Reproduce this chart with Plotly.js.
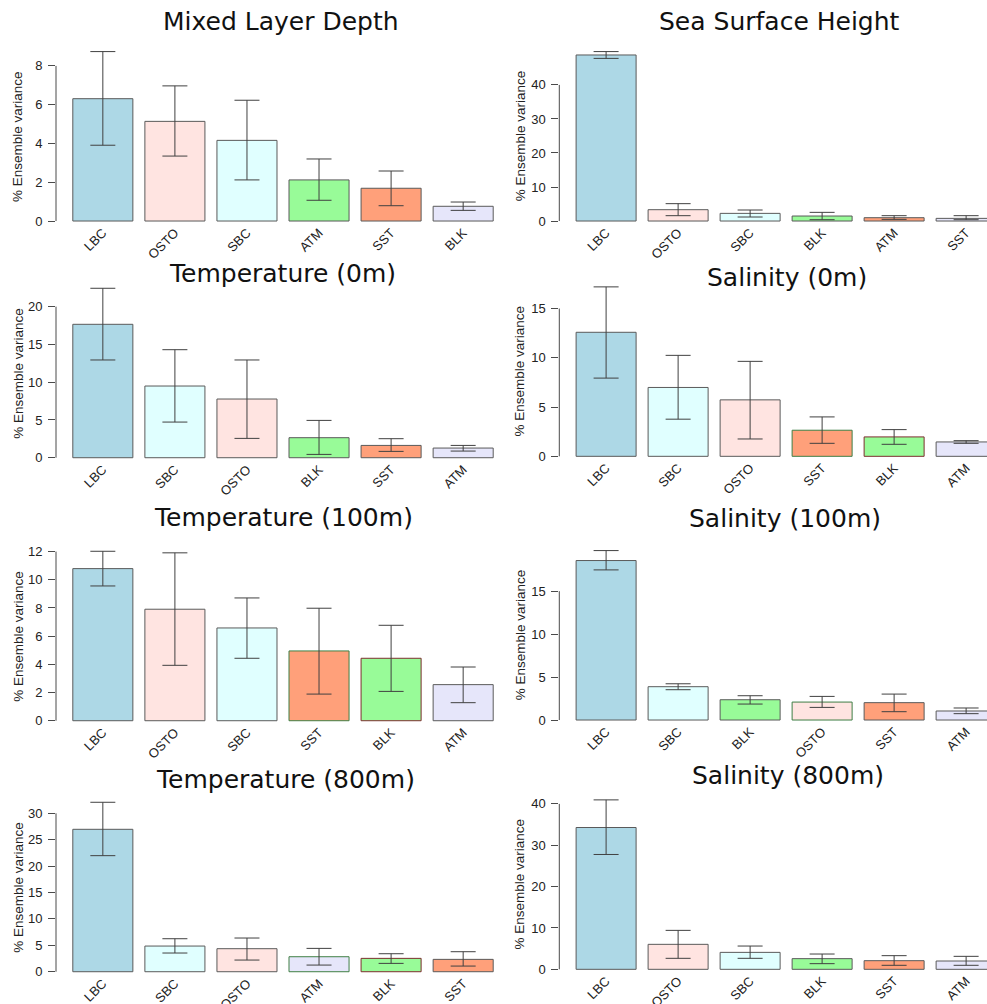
<!DOCTYPE html>
<html>
<head>
<meta charset="utf-8">
<script src="https://cdn.plot.ly/plotly-3.0.1.min.js"></script>
<style>html,body{margin:0;padding:0;background:#fff}</style>
</head>
<body>
<div id="chart" style="width:987px;height:1004px"></div>
<script>
// Share of ensemble variance (%) explained by each perturbation source,
// bar = mean, whiskers = lower / upper bound.

// Mixed Layer Depth
const mldCats = ['LBC', 'OSTO', 'SBC', 'ATM', 'SST', 'BLK'];
const mldVal  = [6.31, 5.14, 4.16, 2.12, 1.69, 0.76];
const mldLo   = [3.91, 3.35, 2.12, 1.07, 0.79, 0.55];
const mldHi   = [8.74, 6.97, 6.23, 3.20, 2.58, 0.98];

// Sea Surface Height
const sshCats = ['LBC', 'OSTO', 'SBC', 'BLK', 'ATM', 'SST'];
const sshVal  = [48.8, 3.33, 2.25, 1.47, 0.98, 0.78];
const sshLo   = [47.8, 1.57, 1.18, 0.39, 0.49, 0.39];
const sshHi   = [49.8, 5.10, 3.24, 2.55, 1.57, 1.57];

// Temperature (0m)
const t0Cats = ['LBC', 'SBC', 'OSTO', 'BLK', 'SST', 'ATM'];
const t0Val  = [17.66, 9.49, 7.77, 2.65, 1.63, 1.28];
const t0Lo   = [12.94, 4.72, 2.56, 0.44, 0.84, 0.88];
const t0Hi   = [22.43, 14.30, 12.94, 4.94, 2.52, 1.63];

// Salinity (0m)
const s0Cats = ['LBC', 'SBC', 'OSTO', 'SST', 'BLK', 'ATM'];
const s0Val  = [12.59, 6.99, 5.73, 2.65, 1.97, 1.46];
const s0Lo   = [7.94, 3.77, 1.76, 1.32, 1.22, 1.32];
const s0Hi   = [17.20, 10.25, 9.64, 4.00, 2.71, 1.59];

// Temperature (100m)
const t100Cats = ['LBC', 'OSTO', 'SBC', 'SST', 'BLK', 'ATM'];
const t100Val  = [10.79, 7.91, 6.58, 4.95, 4.43, 2.56];
const t100Lo   = [9.56, 3.93, 4.43, 1.89, 2.08, 1.28];
const t100Hi   = [12.02, 11.91, 8.71, 7.98, 6.77, 3.81];

// Salinity (100m)
const s100Cats = ['LBC', 'SBC', 'BLK', 'OSTO', 'SST', 'ATM'];
const s100Val  = [18.57, 3.88, 2.36, 2.09, 2.02, 1.05];
const s100Lo   = [17.48, 3.53, 1.86, 1.47, 0.97, 0.74];
const s100Hi   = [19.73, 4.22, 2.83, 2.75, 3.02, 1.40];

// Temperature (800m)
const t800Cats = ['LBC', 'SBC', 'OSTO', 'ATM', 'BLK', 'SST'];
const t800Val  = [26.97, 4.86, 4.36, 2.84, 2.53, 2.34];
const t800Lo   = [21.98, 3.54, 2.21, 1.26, 1.58, 1.07];
const t800Hi   = [32.09, 6.25, 6.38, 4.42, 3.41, 3.79];

// Salinity (800m)
const s800Cats = ['LBC', 'OSTO', 'SBC', 'BLK', 'SST', 'ATM'];
const s800Val  = [34.29, 6.04, 4.10, 2.58, 2.09, 2.01];
const s800Lo   = [27.77, 2.66, 2.66, 1.37, 0.97, 0.97];
const s800Hi   = [40.97, 9.42, 5.63, 3.70, 3.30, 3.14];

// ---- styling ----
const FILL = {LBC: '#ADD8E6', OSTO: '#FFE4E1', SBC: '#E0FFFF',
              ATM: '#E6E6FA', BLK: '#98FB98', SST: '#FFA07A'};
const EDGE = '#5a5a5a';
const EDGE_GREEN = '#3f7f45';
const EDGE_RED = '#7d2f2f';

const W = 987, H = 1004;
const PLOT_H = 183;         // height of each panel's plotting region (px)
const ZERO_OFF = 6.8;       // distance from region bottom to the zero line (px)

// left column spans 56..510 px; right column starts at 559 px and runs off the page edge
const COLS = [
  {x0: 56, x1: 510, range: [-0.65, 5.65], yTitleX: 17.7},
  {x0: 559.3, x1: 987, range: [-0.65, 5.29], yTitleX: 520}
];

const panels = [
  {title: 'Mixed Layer Depth', cats: mldCats, val: mldVal, lo: mldLo, hi: mldHi,
   dtick: 2, tickTop: 8, col: 0, zero: 221, tx: 281, ty: 21.5,
   fill: {ATM: '#98FB98', BLK: '#E6E6FA'}, edge: {}},
  {title: 'Sea Surface Height', cats: sshCats, val: sshVal, lo: sshLo, hi: sshHi,
   dtick: 10, tickTop: 40, col: 1, zero: 221, tx: 779, ty: 22,
   fill: {ATM: '#FFA07A', SST: '#E6E6FA'}, edge: {}},
  {title: 'Temperature (0m)', cats: t0Cats, val: t0Val, lo: t0Lo, hi: t0Hi,
   dtick: 5, tickTop: 20, col: 0, zero: 457.7, tx: 282.5, ty: 273,
   fill: {}, edge: {}},
  {title: 'Salinity (0m)', cats: s0Cats, val: s0Val, lo: s0Lo, hi: s0Hi,
   dtick: 5, tickTop: 15, col: 1, zero: 456.3, tx: 786.7, ty: 277.3,
   fill: {}, edge: {SST: EDGE_GREEN, BLK: EDGE_RED}},
  {title: 'Temperature (100m)', cats: t100Cats, val: t100Val, lo: t100Lo, hi: t100Hi,
   dtick: 2, tickTop: 12, col: 0, zero: 720.7, tx: 283.5, ty: 517.5,
   fill: {}, edge: {SST: EDGE_GREEN, BLK: EDGE_RED}},
  {title: 'Salinity (100m)', cats: s100Cats, val: s100Val, lo: s100Lo, hi: s100Hi,
   dtick: 5, tickTop: 15, col: 1, zero: 720, tx: 785.3, ty: 518.7,
   fill: {}, edge: {OSTO: EDGE_GREEN}},
  {title: 'Temperature (800m)', cats: t800Cats, val: t800Val, lo: t800Lo, hi: t800Hi,
   dtick: 5, tickTop: 30, col: 0, zero: 971.7, tx: 285, ty: 779.7,
   fill: {}, edge: {ATM: EDGE_GREEN, BLK: EDGE_RED}},
  {title: 'Salinity (800m)', cats: s800Cats, val: s800Val, lo: s800Lo, hi: s800Hi,
   dtick: 10, tickTop: 40, col: 1, zero: 969.3, tx: 788, ty: 775.5,
   fill: {}, edge: {}}
];

const tickFont = {family: 'Liberation Sans, Arial, sans-serif', size: 13, color: '#222'};
const titleFont = {family: 'DejaVu Sans, sans-serif', size: 25, color: '#111'};

const data = [];
const layout = {
  width: W, height: H,
  margin: {l: 0, r: 0, t: 0, b: 0},
  paper_bgcolor: '#fff', plot_bgcolor: '#fff',
  showlegend: false,
  bargap: 1 / 6,
  shapes: [],
  annotations: []
};

panels.forEach((p, i) => {
  const n = i + 1;
  const xa = 'x' + (n === 1 ? '' : n);
  const ya = 'y' + (n === 1 ? '' : n);
  const col = COLS[p.col];
  const top = p.zero - (PLOT_H - ZERO_OFF);
  const bottom = p.zero + ZERO_OFF;
  const yMax = Math.max(...p.hi);
  const ticks = [];
  for (let t = 0; t <= p.tickTop + 1e-9; t += p.dtick) ticks.push(t);

  data.push({
    type: 'bar',
    x: p.cats,
    y: p.val,
    xaxis: xa, yaxis: ya,
    marker: {
      color: p.cats.map(c => p.fill[c] || FILL[c]),
      line: {color: p.cats.map(c => p.edge[c] || EDGE), width: 1}
    },
    error_y: {
      type: 'data', symmetric: false,
      array: p.hi.map((h, k) => h - p.val[k]),
      arrayminus: p.val.map((v, k) => v - p.lo[k]),
      color: '#404040', thickness: 1, width: 12.5
    },
    hoverinfo: 'x+y'
  });

  layout['xaxis' + (n === 1 ? '' : n)] = {
    anchor: ya,
    domain: [col.x0 / W, col.x1 / W],
    type: 'category',
    range: col.range,
    tickangle: -45,
    ticks: '',
    ticklabelstandoff: -6,
    showline: false, showgrid: false, zeroline: false,
    tickfont: tickFont,
    fixedrange: true
  };
  layout['yaxis' + (n === 1 ? '' : n)] = {
    anchor: xa,
    domain: [1 - bottom / H, 1 - top / H],
    range: [-0.04 * yMax, 1.04 * yMax],
    tickmode: 'array', tickvals: ticks,
    ticks: 'outside', ticklen: 7, tickwidth: 1, tickcolor: '#4a4a4a',
    ticklabelstandoff: 3,
    showline: false, showgrid: false, zeroline: false,
    tickfont: tickFont,
    fixedrange: true
  };

  // vertical axis line, from 0 to the highest tick
  layout.shapes.push({
    type: 'line', xref: xa + ' domain', yref: ya,
    x0: 0, x1: 0, y0: 0, y1: p.tickTop,
    line: {color: '#4a4a4a', width: 1}
  });

  // panel title
  layout.annotations.push({
    text: p.title, xref: 'paper', yref: 'paper',
    x: p.tx / W, y: 1 - p.ty / H,
    xanchor: 'center', yanchor: 'middle',
    showarrow: false, font: titleFont
  });

  // y-axis title
  layout.annotations.push({
    text: '% Ensemble variance', xref: 'paper', yref: 'paper',
    x: col.yTitleX / W, y: 1 - (top + PLOT_H / 2) / H,
    xanchor: 'center', yanchor: 'middle', textangle: -90,
    showarrow: false,
    font: {family: 'Liberation Sans, Arial, sans-serif', size: 13.5, color: '#222'}
  });
});

Plotly.newPlot('chart', data, layout, {displayModeBar: false, staticPlot: true});
</script>
</body>
</html>
